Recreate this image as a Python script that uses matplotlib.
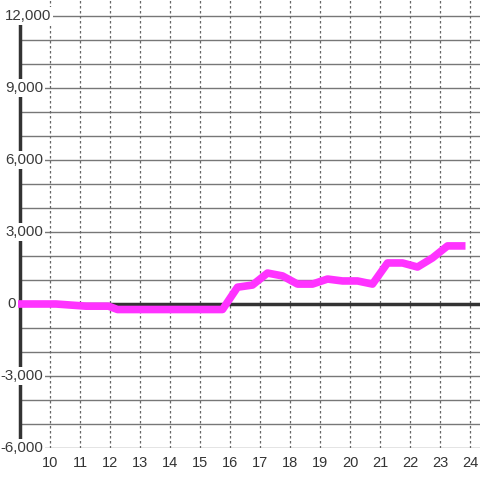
import numpy as np
import matplotlib
matplotlib.use("Agg")
import matplotlib.pyplot as plt
import matplotlib.transforms as mtransforms

plt.rcParams['font.family'] = ['Liberation Sans', 'DejaVu Sans']

# data
days = [8.9, 10.2, 11.2, 11.95, 12.25, 15.75, 16.25, 16.75, 17.25, 17.75, 18.25,
        18.75, 19.25, 19.75, 20.25, 20.75, 21.25, 21.75, 22.25, 22.75, 23.25, 23.85]
values = [0, 0, -90, -90, -230, -230, 700, 790, 1290, 1170, 830,
          830, 1040, 960, 960, 830, 1710, 1710, 1540, 1920, 2420, 2420]
xticks = list(range(10, 25))
yticks = [-6000, -3000, 0, 3000, 6000, 9000, 12000]
ylabels = ["-6,000", "-3,000", "0", "3,000", "6,000", "9,000", "12,000"]

fig = plt.figure(figsize=(4.8, 4.8), dpi=100)
ax = fig.add_axes([20/480, 32/480, 460/480, 448/480])
ax.set_xlim(9.0, 9.0 + 460/30)
ax.set_ylim(-6000, 12000 + 16/24*1000)

for s in ['top', 'right', 'bottom']:
    ax.spines[s].set_visible(False)
ax.spines['left'].set_color('#333333')
ax.spines['left'].set_linewidth(2.5)
ax.spines['left'].set_bounds(-6000, 12000)

# horizontal grid every 1000, vertical dotted every day
for yv in range(-6000, 12001, 1000):
    ax.axhline(yv, color='#777777', lw=1, zorder=1)
for xv in xticks:
    ax.plot([xv, xv], [-6000, 12000 + 16/24*1000], color='#666666', lw=0.9,
            ls=(0, (2, 2)), zorder=1)

ax.axhline(0, color='#333333', lw=2.5, zorder=2)
ax.plot(days, values, color='#ff33ff', lw=5.5, solid_joinstyle='round',
        solid_capstyle='butt', zorder=3, clip_on=False)

ax.set_xticks(xticks)
ax.set_xticklabels([str(t) for t in xticks])
ax.tick_params(axis='x', length=0, pad=6, labelsize=10.5, labelcolor='#333333')
ax.set_yticks([])

trans = mtransforms.blended_transform_factory(fig.transFigure, ax.transData)
for yv, lab in zip(yticks, ylabels):
    if lab == "12,000":
        xpos, ha = 5/480, 'left'
    elif lab == "0":
        xpos, ha = 16/480, 'right'
    else:
        xpos, ha = 43/480, 'right'
    ax.text(xpos, yv, lab, transform=trans, ha=ha, va='center',
            fontsize=10.8, color='#3a3a3a', zorder=5,
            bbox=dict(facecolor='white', edgecolor='none', pad=1.5))

fig.savefig("out.png", dpi=100)
